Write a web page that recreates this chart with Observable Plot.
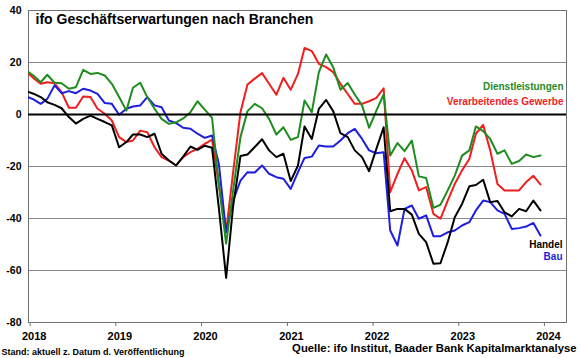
<!DOCTYPE html>
<html><head><meta charset="utf-8">
<script src="https://cdn.jsdelivr.net/npm/d3@7"></script>
<script src="https://cdn.jsdelivr.net/npm/@observablehq/plot@0.6"></script>
<style>
body{margin:0;background:#fff}
#chart svg text{font-weight:bold}
</style></head><body><div id="chart"></div>
<script>
// Monthly values, first value = Dec 2017, last = Dec 2023
const startYear = 2017, startMonth = 11;
const dienstleistungen = [17,15,12.4,15.3,12.2,12,9.9,10.5,17.2,15.6,16,15,11.8,6.7,1.5,10.3,12.2,6.7,2.2,-1.7,-3.6,-3,-1.5,0.9,5.1,1.9,-1.3,-27,-49.7,-29,-8.7,1.3,4.1,2.4,-1.7,-7.7,-4.9,-9.7,-8.7,5.4,0.9,16.3,23.1,18.2,9.5,12.1,7.7,3.5,-5.1,1.5,7.7,-15.8,-11,-14.1,-10,-23.8,-24.4,-35.9,-34.7,-29.2,-23.5,-15.8,-13.8,-4.6,-6.4,-9.4,-15.1,-13.8,-19,-17.9,-15.4,-16.4,-15.8];
const verarbeitendes = [16.5,14,11.8,12.4,12,8.6,2.6,2.6,6.9,6.7,2.2,0.3,-2.3,-8.7,-10.6,-10,-6.2,-6.8,-12.6,-16.4,-17.7,-19.6,-16.4,-14.5,-13.2,-11.3,-9.7,-27,-45,-22,0.9,11.5,13.8,15.9,11.8,7.6,14.1,9.5,15.6,25.6,24.4,19.5,18.2,16.3,11.8,7.9,4.1,4.1,5.1,6.4,10.1,-29.9,-22.8,-16.8,-21.5,-29.2,-27.9,-38.2,-40.1,-33.1,-26.7,-21.5,-17.1,-7.4,-4,-13.8,-26.7,-29.2,-29.2,-29.2,-26,-23.6,-26.9];
const handel = [9,8,6.7,4.7,3.7,2.4,-1,-3.5,-1.7,-0.4,-1.7,-2.9,-4.2,-12.6,-10.6,-7.7,-7.7,-8.7,-7.4,-15.1,-17.7,-19.6,-16.2,-12.3,-13.6,-12,-12.8,-36,-62.8,-35,-16,-15.4,-12.5,-9.5,-13.8,-16.4,-15.1,-25.6,-19.6,-4.6,-9.4,2.2,5.6,1.3,-7.2,-8.7,-13.8,-16.4,-21.8,-13.2,-4.9,-37.2,-36.3,-36.3,-38.5,-45.9,-49.1,-57.4,-57.2,-49.1,-39.5,-34.4,-27.6,-27.1,-25.1,-33.7,-33.3,-37.6,-39.2,-36.3,-37.2,-33.1,-36.9];
const bau = [7,5.8,4.1,6,11.2,8.2,9,8.2,9.9,9.2,7.9,4.4,4.1,-0.1,2.2,3.1,3.5,6.7,3.5,2.8,-2.3,-3.3,-5.1,-5.5,-7.4,-9,-8.1,-19,-45.3,-33,-25.4,-22.2,-22.3,-19.6,-22.8,-24.1,-24.7,-28.6,-22.2,-16.7,-16.2,-11.9,-12.3,-12.3,-10,-7.2,-5.5,-9.4,-13.8,-14.9,-14.5,-44.6,-50.4,-36.3,-35,-40.1,-38.8,-46.8,-46.8,-45.3,-44.6,-42.7,-41.4,-36.9,-33.1,-33.7,-36.9,-38.2,-44,-43.7,-43.1,-41.7,-46.5];

const seriesNames = ["Dienstleistungen", "Verarbeitendes Gewerbe", "Handel", "Bau"];
const seriesColors = ["#1f8c1f", "#f01e1e", "#000000", "#1e1ee0"];
const yTicks = [40, 20, 0, -20, -40, -60, -80];
const gridValues = [20, -20, -40, -60];
const yearTicks = [2018, 2019, 2020, 2021, 2022, 2023, 2024];
const title = "ifo Geschäftserwartungen nach Branchen";
const noteLeft = "Stand: aktuell z. Datum d. Veröffentlichung";
const noteRight = "Quelle: ifo Institut, Baader Bank Kapitalmarktanalyse";

const monthDate = i => new Date(Date.UTC(startYear, startMonth + i, 15));
const seriesData = [dienstleistungen, verarbeitendes, handel, bau].map((arr, k) =>
  arr.map((v, i) => ({date: monthDate(i), value: v, series: seriesNames[k]})));
const tickDates = yearTicks.map(y => new Date(Date.UTC(y, 0, 1)));

const lineFor = k => Plot.line(seriesData[k], {x: "date", y: "value", stroke: seriesColors[k], strokeWidth: 2, clip: true});

const label = (txt, opts) => Plot.text([txt], {text: d => d, lineAnchor: "bottom", ...opts});

const chart = Plot.plot({
  width: 580, height: 358,
  marginTop: 10, marginBottom: 36, marginLeft: 28, marginRight: 14,
  style: {fontFamily: "'Liberation Sans', Arial, sans-serif", fontSize: "11px", color: "#000", background: "#fff"},
  x: {type: "utc", domain: [new Date(Date.UTC(2017, 11, 25)), new Date(Date.UTC(2024, 3, 4))], label: null},
  y: {domain: [-80, 40], label: null},
  marks: [
    Plot.ruleY(gridValues, {stroke: "#8a8a8a", strokeWidth: 1}),
    Plot.frame({stroke: "#707070", strokeWidth: 1}),
    Plot.axisY({ticks: yTicks, tickSize: 0, tickPadding: 7, fontSize: 10.5, label: null, tickFormat: d => String(d)}),
    Plot.axisX({ticks: tickDates, tickSize: 4, stroke: "#707070", label: null, tickFormat: () => ""}),
    Plot.axisX({ticks: tickDates, tickSize: 0, tickPadding: 10, dx: 4, fontSize: 11, label: null, tickFormat: d3.utcFormat("%Y")}),
    lineFor(1), lineFor(3), lineFor(2), lineFor(0),
    Plot.ruleY([0], {stroke: "#000", strokeWidth: 2}),
    label(title, {frameAnchor: "top-left", textAnchor: "start", dx: 7, dy: 13, fontSize: 14}),
    label(seriesNames[0], {frameAnchor: "top-right", textAnchor: "end", dx: -3, dy: 79, fontSize: 10, fill: seriesColors[0]}),
    label(seriesNames[1], {frameAnchor: "top-right", textAnchor: "end", dx: -3, dy: 94.3, fontSize: 10, fill: seriesColors[1]}),
    label(seriesNames[2], {frameAnchor: "top-right", textAnchor: "end", dx: -4, dy: 237.3, fontSize: 10, fill: seriesColors[2]}),
    label(seriesNames[3], {frameAnchor: "top-right", textAnchor: "end", dx: -4, dy: 249.3, fontSize: 10, fill: seriesColors[3]}),
    label(noteLeft, {frameAnchor: "bottom-left", textAnchor: "start", dx: -27, dy: 32, fontSize: 9}),
    label(noteRight, {frameAnchor: "bottom-right", textAnchor: "end", dx: 10, dy: 29, fontSize: 11.3})
  ]
});
document.getElementById("chart").appendChild(chart);
</script></body></html>
